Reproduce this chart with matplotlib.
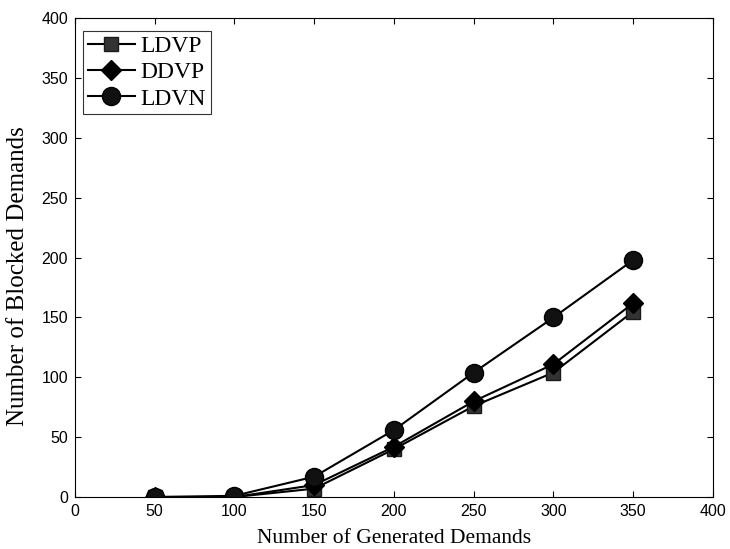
import matplotlib
matplotlib.use("Agg")
import matplotlib.pyplot as plt

x = [50, 100, 150, 200, 250, 300, 350]
ldvp = [0, 0, 7, 40, 76, 104, 155]
ddvp = [0, 0, 10, 42, 80, 111, 162]
ldvn = [0, 1, 17, 56, 104, 150, 198]
xticks = [0, 50, 100, 150, 200, 250, 300, 350, 400]
yticks = [0, 50, 100, 150, 200, 250, 300, 350, 400]

fig = plt.figure(figsize=(7.3, 5.49), dpi=100)
ax = fig.add_axes([0.1027, 0.0947, 0.874, 0.872])

ax.plot(x, ldvp, color='black', lw=1.5, marker='s', ms=9.5, mfc='#333333', mec='#1a1a1a', label='LDVP')
ax.plot(x, ddvp, color='black', lw=1.5, marker='D', ms=10, mfc='black', mec='black', label='DDVP')
ax.plot(x, ldvn, color='black', lw=1.5, marker='o', ms=13, mfc='#111111', mec='black', label='LDVN')

ax.set_xlim(0, 400)
ax.set_ylim(0, 400)
ax.set_xticks(xticks)
ax.set_yticks(yticks)
ax.tick_params(direction='in', top=True, right=True, length=4, labelsize=11.5, pad=5)
for lab in ax.get_xticklabels() + ax.get_yticklabels():
    lab.set_family('Liberation Sans')
for s in ax.spines.values():
    s.set_linewidth(0.8)

ax.set_xlabel('Number of Generated Demands', family='Liberation Serif', fontsize=15.5)
ax.xaxis.set_label_coords(0.5, -0.066)
ax.set_ylabel('Number of Blocked Demands', family='Liberation Serif', fontsize=18)
ax.yaxis.set_label_coords(-0.072, 0.461)

leg = ax.legend(loc='upper left', bbox_to_anchor=(0.0125, 0.9735), borderaxespad=0,
                prop={'family': 'Liberation Serif', 'size': 17},
                frameon=True, fancybox=False, edgecolor='black', borderpad=0.2,
                handlelength=2.0, handletextpad=0.25, labelspacing=0.2)
leg.get_frame().set_linewidth(0.8)

fig.savefig('out.png', dpi=100)
